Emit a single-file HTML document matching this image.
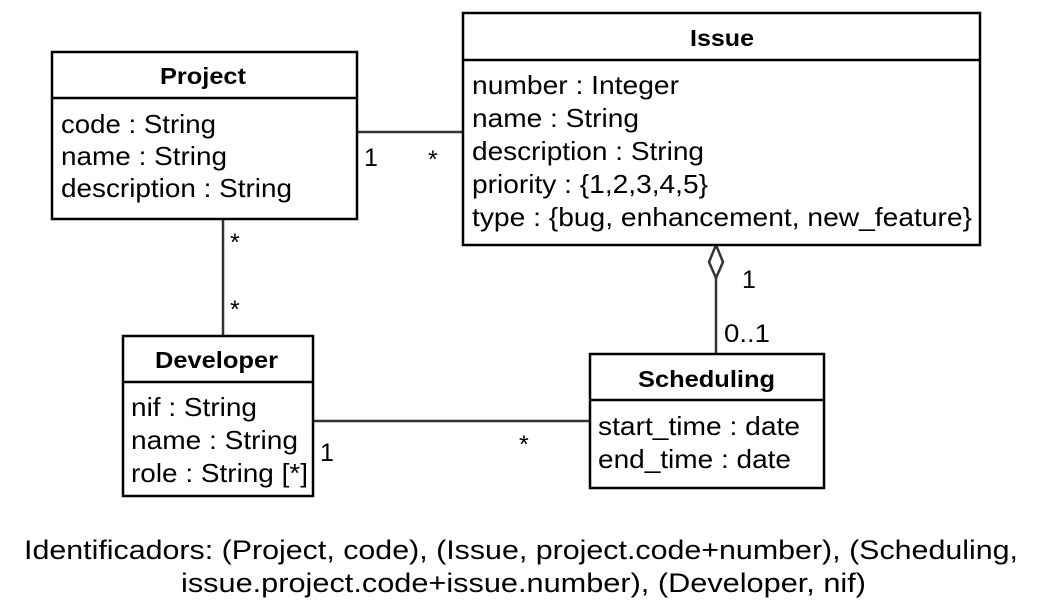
<!DOCTYPE html>
<html><head><meta charset="utf-8"><style>
body{margin:0;background:#fff}
svg text{font-family:"Liberation Sans",Arial,sans-serif;fill:#000}
.t{font-weight:bold;font-size:23px}
.a{font-size:26px}
.m{font-size:25px}
.c{font-size:27px}
</style></head><body>
<svg width="1044" height="610" viewBox="0 0 1044 610" xmlns="http://www.w3.org/2000/svg">
<g stroke="#333" stroke-width="2.5" fill="none">
<line x1="357" y1="132" x2="463" y2="132"/>
<line x1="223" y1="219" x2="223" y2="336"/>
<line x1="716" y1="278" x2="716" y2="354"/>
<polygon points="716,245 723,262 716,278 709,262" fill="#fff"/>
<line x1="313" y1="421" x2="590" y2="421"/>
</g>
<g stroke="#000" stroke-width="2.5" fill="#fff">
<rect x="52" y="52" width="305" height="167"/>
<line x1="52" y1="98" x2="357" y2="98"/>
<rect x="463" y="13" width="517" height="232"/>
<line x1="463" y1="60" x2="980" y2="60"/>
<rect x="123" y="336" width="190" height="160"/>
<line x1="123" y1="382" x2="313" y2="382"/>
<rect x="590" y="354" width="234" height="134"/>
<line x1="590" y1="400" x2="824" y2="400"/>
</g>
<g>
<text class="t" x="160" y="84" textLength="86" lengthAdjust="spacingAndGlyphs">Project</text>
<text class="a" x="61" y="133" textLength="155" lengthAdjust="spacingAndGlyphs">code : String</text>
<text class="a" x="61" y="165" textLength="166" lengthAdjust="spacingAndGlyphs">name : String</text>
<text class="a" x="61" y="197" textLength="231" lengthAdjust="spacingAndGlyphs">description : String</text>
<text class="t" x="690" y="46" textLength="64" lengthAdjust="spacingAndGlyphs">Issue</text>
<text class="a" x="472" y="94" textLength="207" lengthAdjust="spacingAndGlyphs">number : Integer</text>
<text class="a" x="472" y="127" textLength="167" lengthAdjust="spacingAndGlyphs">name : String</text>
<text class="a" x="472" y="160" textLength="232" lengthAdjust="spacingAndGlyphs">description : String</text>
<text class="a" x="472" y="193" textLength="236" lengthAdjust="spacingAndGlyphs">priority : {1,2,3,4,5}</text>
<text class="a" x="472" y="226" textLength="500" lengthAdjust="spacingAndGlyphs">type : {bug, enhancement, new_feature}</text>
<text class="t" x="155" y="368" textLength="123" lengthAdjust="spacingAndGlyphs">Developer</text>
<text class="a" x="131" y="416" textLength="126" lengthAdjust="spacingAndGlyphs">nif : String</text>
<text class="a" x="131" y="449" textLength="167" lengthAdjust="spacingAndGlyphs">name : String</text>
<text class="a" x="131" y="482" textLength="177" lengthAdjust="spacingAndGlyphs">role : String [*]</text>
<text class="t" x="638" y="387" textLength="137" lengthAdjust="spacingAndGlyphs">Scheduling</text>
<text class="a" x="598" y="435" textLength="202" lengthAdjust="spacingAndGlyphs">start_time : date</text>
<text class="a" x="598" y="468" textLength="193" lengthAdjust="spacingAndGlyphs">end_time : date</text>
</g>
<g class="m">
<text x="364" y="166">1</text>
<text x="428" y="168">*</text>
<text x="230" y="251">*</text>
<text x="230" y="318">*</text>
<text x="742" y="288">1</text>
<text x="724" y="342" textLength="46" lengthAdjust="spacingAndGlyphs">0..1</text>
<text x="320" y="461">1</text>
<text x="519" y="453">*</text>
</g>
<text class="c" x="24" y="559" textLength="994" lengthAdjust="spacingAndGlyphs">Identificadors: (Project, code), (Issue, project.code+number), (Scheduling,</text>
<text class="c" x="181" y="592" textLength="685" lengthAdjust="spacingAndGlyphs">issue.project.code+issue.number), (Developer, nif)</text>
</svg>
</body></html>
